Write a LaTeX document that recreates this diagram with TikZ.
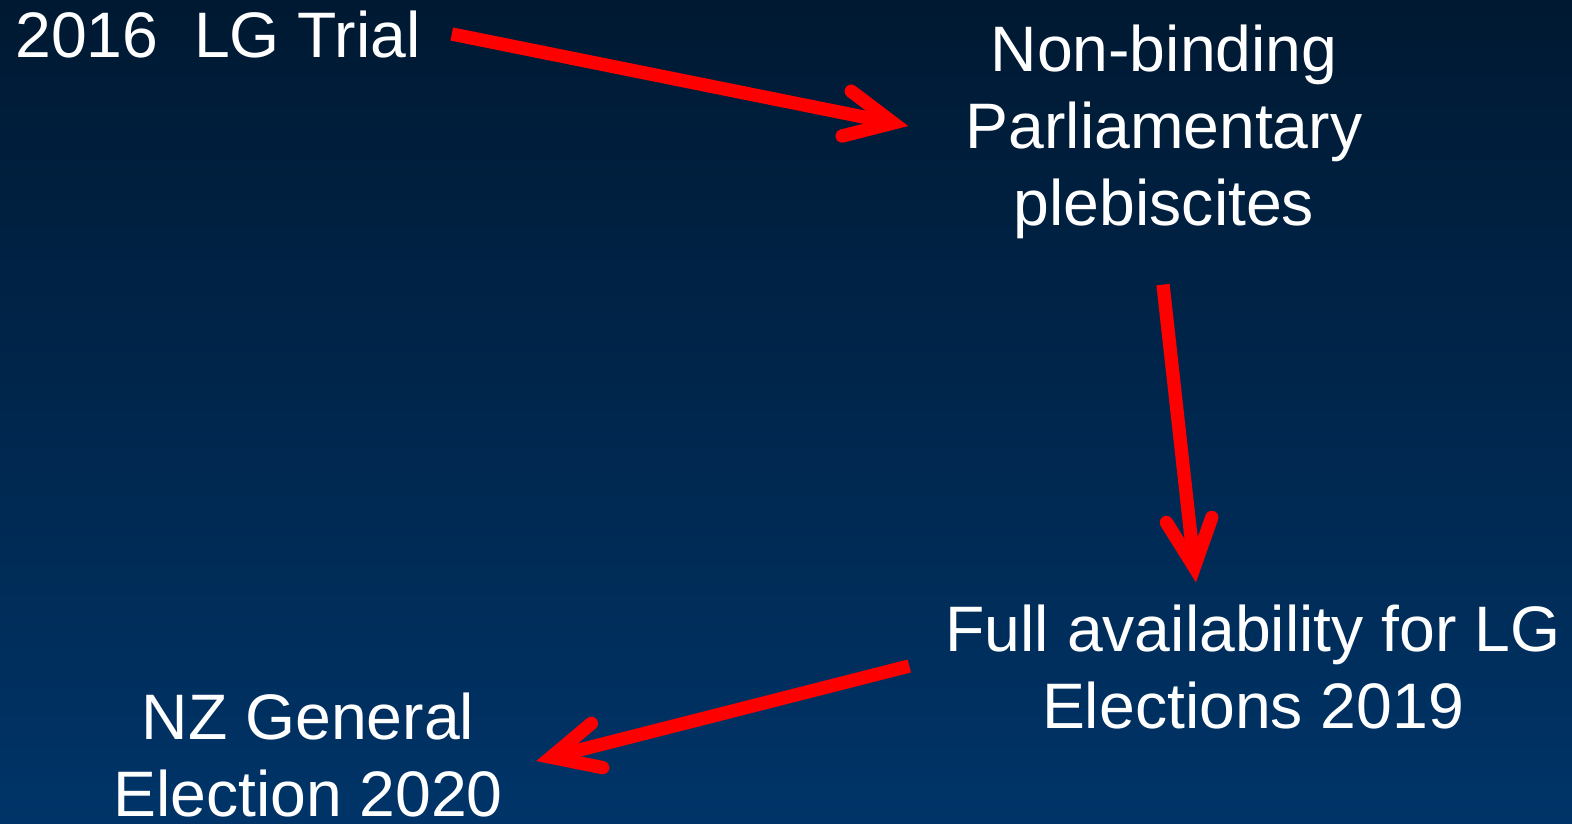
\documentclass[tikz,border=0pt]{standalone}
\usepackage{fontspec}
\setmainfont{Liberation Sans}
\usetikzlibrary{arrows.meta}
\definecolor{slidetop}{RGB}{0,25,50}
\definecolor{slidebot}{RGB}{0,52,104}
\begin{document}
\begin{tikzpicture}[x=0.02cm,y=-0.02cm,
  slidetext/.style={text=white,inner sep=0pt,align=center,font=\fontsize{36.6}{44}\selectfont},
  redarrow/.style={draw=red,line width=7.6pt,
    -{Straight Barb[length=27pt,width=26pt,line cap=round,line join=miter]}}]
% background
\fill [top color=slidetop,bottom color=slidebot] (0,0) rectangle (1572,823);
\useasboundingbox (0,0) rectangle (1572,823);
% texts
\node [slidetext,anchor=base west] (trial) at (15,57) {2016~~LG Trial};
\node [slidetext] (pleb) at (1164,132) {Non-binding\\Parliamentary\\plebiscites};
\node [slidetext] (full) at (1253,667) {Full availability for LG\\Elections 2019};
\node [slidetext] (nzge) at (308,755) {NZ General\\Election 2020};
% arrows
\draw [redarrow] ([shift={(31,0)}]trial.east) -- ([shift={(-57,-6)}]pleb.west);
\draw [redarrow] ([shift={(-1,45)}]pleb.south) -- ([shift={(-57,-22)}]full.north);
\draw [redarrow] ([shift={(-36,-1)}]full.west) -- ([shift={(33,6)}]nzge.east);
\end{tikzpicture}
\end{document}
